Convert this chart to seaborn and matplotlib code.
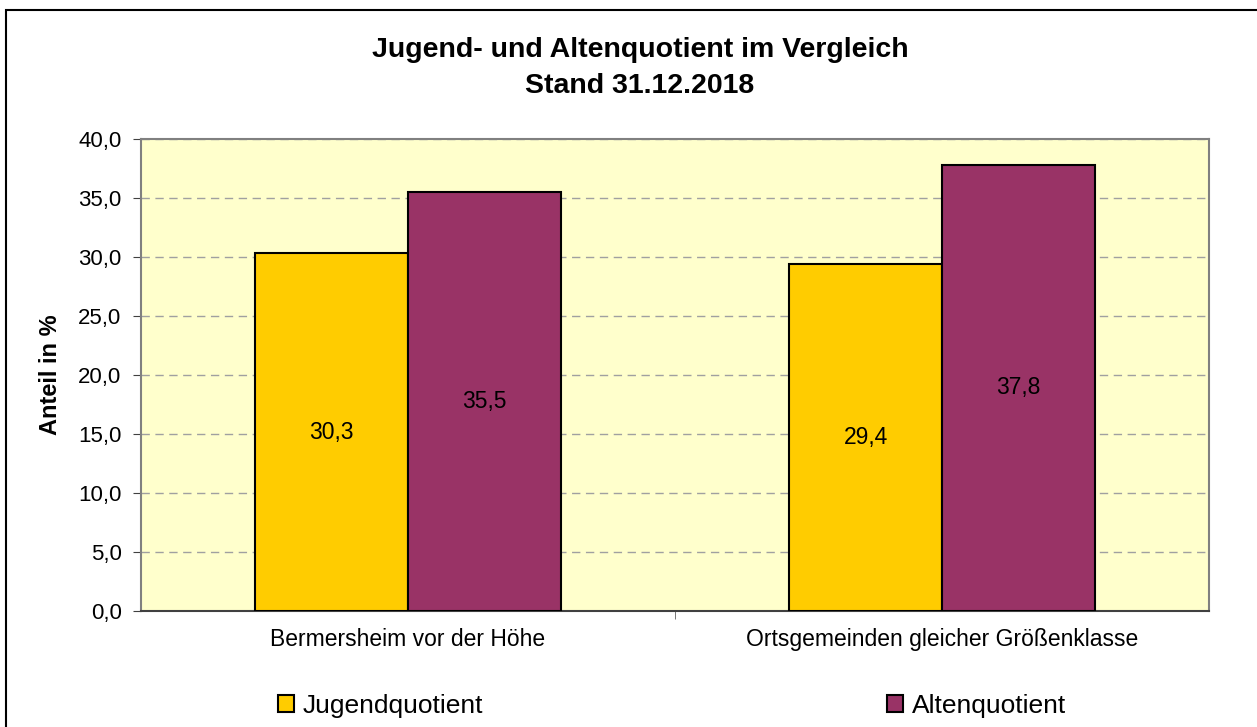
import matplotlib
matplotlib.use("Agg")
import matplotlib.pyplot as plt
import matplotlib.patches as mpatches
import pandas as pd
import seaborn as sns

gemeinden = ["Bermersheim vor der Höhe", "Ortsgemeinden gleicher Größenklasse"]
serien = ["Jugendquotient", "Altenquotient"]
jugend = [30.3, 29.4]
alten = [35.5, 37.8]
y_ticks = [0, 5, 10, 15, 20, 25, 30, 35, 40]
farben = ["#FFCC00", "#993366"]

df = pd.DataFrame({
    "Gemeinde": gemeinden * 2,
    "Quotient": [serien[0]] * 2 + [serien[1]] * 2,
    "Wert": jugend + alten,
})

sns.set_style("white")
plt.rcParams["font.family"] = ["Liberation Sans", "DejaVu Sans"]
plt.rcParams["text.color"] = "black"
plt.rcParams["axes.labelcolor"] = "black"
plt.rcParams["xtick.labelcolor"] = "black"
plt.rcParams["ytick.labelcolor"] = "black"

fig = plt.figure(figsize=(12.57, 7.27), dpi=100)
ax = fig.add_axes([0.1122, 0.1596, 0.8496, 0.6492])

sns.barplot(data=df, x="Gemeinde", y="Wert", hue="Quotient", palette=farben,
            width=0.572, edgecolor="black", linewidth=1.5, saturation=1,
            ax=ax, legend=False, zorder=3)

for cont in ax.containers:
    ax.bar_label(cont, labels=[f"{b.get_height():.1f}".replace(".", ",") for b in cont],
                 label_type="center", fontsize=16.5)

ax.set_facecolor("#FFFFCC")
ax.set_ylim(0, 40)
ax.set_xlim(-0.5, 1.5)
ax.set_yticks(y_ticks)
ax.set_yticklabels([f"{t:.1f}".replace(".", ",") for t in y_ticks], fontsize=16)
ax.set_xticks([0, 1])
ax.set_xticklabels(gemeinden, fontsize=16.5)
ax.tick_params(axis="x", length=0, pad=12)
ax.tick_params(axis="y", left=True, length=6, color="#404040", pad=8)
ax.set_xticks([0.5], minor=True)
ax.tick_params(axis="x", which="minor", bottom=True, length=6, color="#606060")
ax.yaxis.grid(True, linestyle=(0, (6, 4)), color="#A0A0A0", linewidth=1, zorder=0)
ax.set_axisbelow(True)
ax.set_xlabel("")
ax.set_ylabel("Anteil in %", fontsize=17, fontweight="bold", labelpad=12)
for s in ["left", "top", "right"]:
    ax.spines[s].set_color("#808080")
    ax.spines[s].set_linewidth(1.5)
ax.spines["bottom"].set_color("#404040")
ax.spines["bottom"].set_linewidth(1.5)

fig.text(0.509, 1 - 50 / 727, "Jugend- und Altenquotient im Vergleich",
         ha="center", va="center", fontsize=20.5, fontweight="bold")
fig.text(0.509, 1 - 86 / 727, "Stand 31.12.2018",
         ha="center", va="center", fontsize=20.5, fontweight="bold")

handles = [mpatches.Patch(facecolor=c, edgecolor="black", linewidth=1.5, label=s)
           for c, s in zip(farben, serien)]
fig.legend(handles=handles, loc="center left", bbox_to_anchor=(278 / 1257, 1 - 706 / 727),
           ncol=2, frameon=False, fontsize=19, columnspacing=15.3, handlelength=0.6,
           handleheight=0.6, handletextpad=0.35, borderpad=0, borderaxespad=0)

fig.patches.append(mpatches.Rectangle((6 / 1257, -0.05), 1.2, 1 - 10 / 727 + 0.05,
                                      transform=fig.transFigure, fill=False,
                                      edgecolor="black", linewidth=1.5))

fig.savefig("out.png", dpi=100)
